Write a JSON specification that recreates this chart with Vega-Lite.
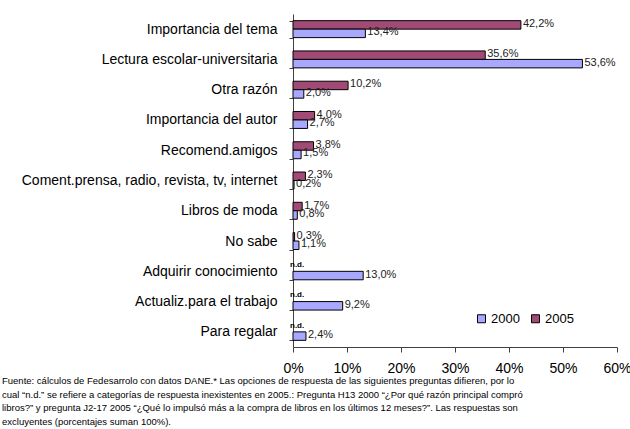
{
  "$schema": "https://vega.github.io/schema/vega-lite/v6.json",
  "width": 324,
  "height": 333,
  "autosize": "none",
  "padding": {"left": 293, "top": 14, "right": 13, "bottom": 82},
  "config": {
    "font": "Liberation Sans",
    "view": {"stroke": null},
    "axis": {"grid": false}
  },
  "title": {
    "text": [
      "Fuente: cálculos de Fedesarrolo con datos DANE.* Las opciones de respuesta de las siguientes preguntas difieren, por lo",
      "cual “n.d.” se refiere a categorías de respuesta inexistentes en 2005.: Pregunta H13 2000 “¿Por qué razón principal compró",
      "libros?” y pregunta J2-17 2005 “¿Qué lo impulsó más a la compra de libros en los últimos 12 meses?”. Las respuestas son",
      "excluyentes (porcentajes suman 100%)."
    ],
    "orient": "bottom",
    "anchor": "start",
    "frame": "group",
    "dx": -291,
    "offset": 1,
    "fontSize": 9.5,
    "fontWeight": "normal",
    "lineHeight": 13.5,
    "color": "black",
    "font": "Liberation Sans"
  },
  "data": {
    "values": [
      {"motivo": "Importancia del tema", "anio": "2005", "valor": 42.2, "etiqueta": "42,2%"},
      {"motivo": "Importancia del tema", "anio": "2000", "valor": 13.4, "etiqueta": "13,4%"},
      {"motivo": "Lectura escolar-universitaria", "anio": "2005", "valor": 35.6, "etiqueta": "35,6%"},
      {"motivo": "Lectura escolar-universitaria", "anio": "2000", "valor": 53.6, "etiqueta": "53,6%"},
      {"motivo": "Otra razón", "anio": "2005", "valor": 10.2, "etiqueta": "10,2%"},
      {"motivo": "Otra razón", "anio": "2000", "valor": 2.0, "etiqueta": "2,0%"},
      {"motivo": "Importancia del autor", "anio": "2005", "valor": 4.0, "etiqueta": "4,0%"},
      {"motivo": "Importancia del autor", "anio": "2000", "valor": 2.7, "etiqueta": "2,7%"},
      {"motivo": "Recomend.amigos", "anio": "2005", "valor": 3.8, "etiqueta": "3,8%"},
      {"motivo": "Recomend.amigos", "anio": "2000", "valor": 1.5, "etiqueta": "1,5%"},
      {"motivo": "Coment.prensa, radio, revista, tv, internet", "anio": "2005", "valor": 2.3, "etiqueta": "2,3%"},
      {"motivo": "Coment.prensa, radio, revista, tv, internet", "anio": "2000", "valor": 0.2, "etiqueta": "0,2%"},
      {"motivo": "Libros de moda", "anio": "2005", "valor": 1.7, "etiqueta": "1,7%"},
      {"motivo": "Libros de moda", "anio": "2000", "valor": 0.8, "etiqueta": "0,8%"},
      {"motivo": "No sabe", "anio": "2005", "valor": 0.3, "etiqueta": "0,3%"},
      {"motivo": "No sabe", "anio": "2000", "valor": 1.1, "etiqueta": "1,1%"},
      {"motivo": "Adquirir conocimiento", "anio": "2005", "valor": null, "etiqueta": "n.d."},
      {"motivo": "Adquirir conocimiento", "anio": "2000", "valor": 13.0, "etiqueta": "13,0%"},
      {"motivo": "Actualiz.para el trabajo", "anio": "2005", "valor": null, "etiqueta": "n.d."},
      {"motivo": "Actualiz.para el trabajo", "anio": "2000", "valor": 9.2, "etiqueta": "9,2%"},
      {"motivo": "Para regalar", "anio": "2005", "valor": null, "etiqueta": "n.d."},
      {"motivo": "Para regalar", "anio": "2000", "valor": 2.4, "etiqueta": "2,4%"}
    ]
  },
  "encoding": {
    "y": {
      "field": "motivo",
      "type": "nominal",
      "sort": ["Importancia del tema", "Lectura escolar-universitaria", "Otra razón", "Importancia del autor", "Recomend.amigos", "Coment.prensa, radio, revista, tv, internet", "Libros de moda", "No sabe", "Adquirir conocimiento", "Actualiz.para el trabajo", "Para regalar"],
      "scale": {"paddingInner": 0.44, "paddingOuter": 0.22},
      "axis": {
        "title": null,
        "tickBand": "extent",
        "labelFontSize": 14,
        "labelColor": "black",
        "labelPadding": 12,
        "labelLimit": 320,
        "domainColor": "#404040",
        "tickColor": "#404040",
        "tickSize": 4
      }
    },
    "yOffset": {"field": "anio", "sort": ["2005", "2000"], "scale": {"paddingInner": 0}}
  },
  "layer": [
    {
      "transform": [{"filter": "datum.valor != null"}],
      "mark": {"type": "bar", "stroke": "black", "strokeWidth": 1},
      "encoding": {
        "x": {
          "field": "valor",
          "type": "quantitative",
          "scale": {"domain": [0, 60], "nice": false},
          "axis": {
            "title": null,
            "values": [0, 10, 20, 30, 40, 50, 60],
            "labelExpr": "datum.value + '%'",
            "labelFlush": false,
            "labelFontSize": 14,
            "labelColor": "black",
            "labelPadding": 9,
            "tickSize": 5,
            "domainColor": "#404040",
            "tickColor": "#404040"
          }
        },
        "color": {
          "field": "anio",
          "type": "nominal",
          "scale": {"domain": ["2000", "2005"], "range": ["#A8A8FF", "#A24A76"]},
          "legend": {
            "title": null,
            "orient": "none",
            "legendX": 182,
            "legendY": 298,
            "direction": "horizontal",
            "symbolType": "square",
            "symbolSize": 64,
            "symbolStrokeColor": "black",
            "symbolStrokeWidth": 1,
            "labelFontSize": 13,
            "labelColor": "black",
            "labelOffset": 3,
            "columnPadding": 9
          }
        }
      }
    },
    {
      "transform": [{"filter": "datum.valor != null"}],
      "mark": {"type": "text", "align": "left", "dx": 2, "dy": -1, "fontSize": 11, "color": "#222"},
      "encoding": {
        "x": {"field": "valor", "type": "quantitative"},
        "text": {"field": "etiqueta"}
      }
    },
    {
      "transform": [{"filter": "datum.valor == null"}],
      "mark": {"type": "text", "align": "left", "dx": -3, "dy": -2, "fontSize": 8, "fontWeight": "bold", "color": "black"},
      "encoding": {
        "x": {"datum": 0},
        "text": {"field": "etiqueta"}
      }
    }
  ]
}
